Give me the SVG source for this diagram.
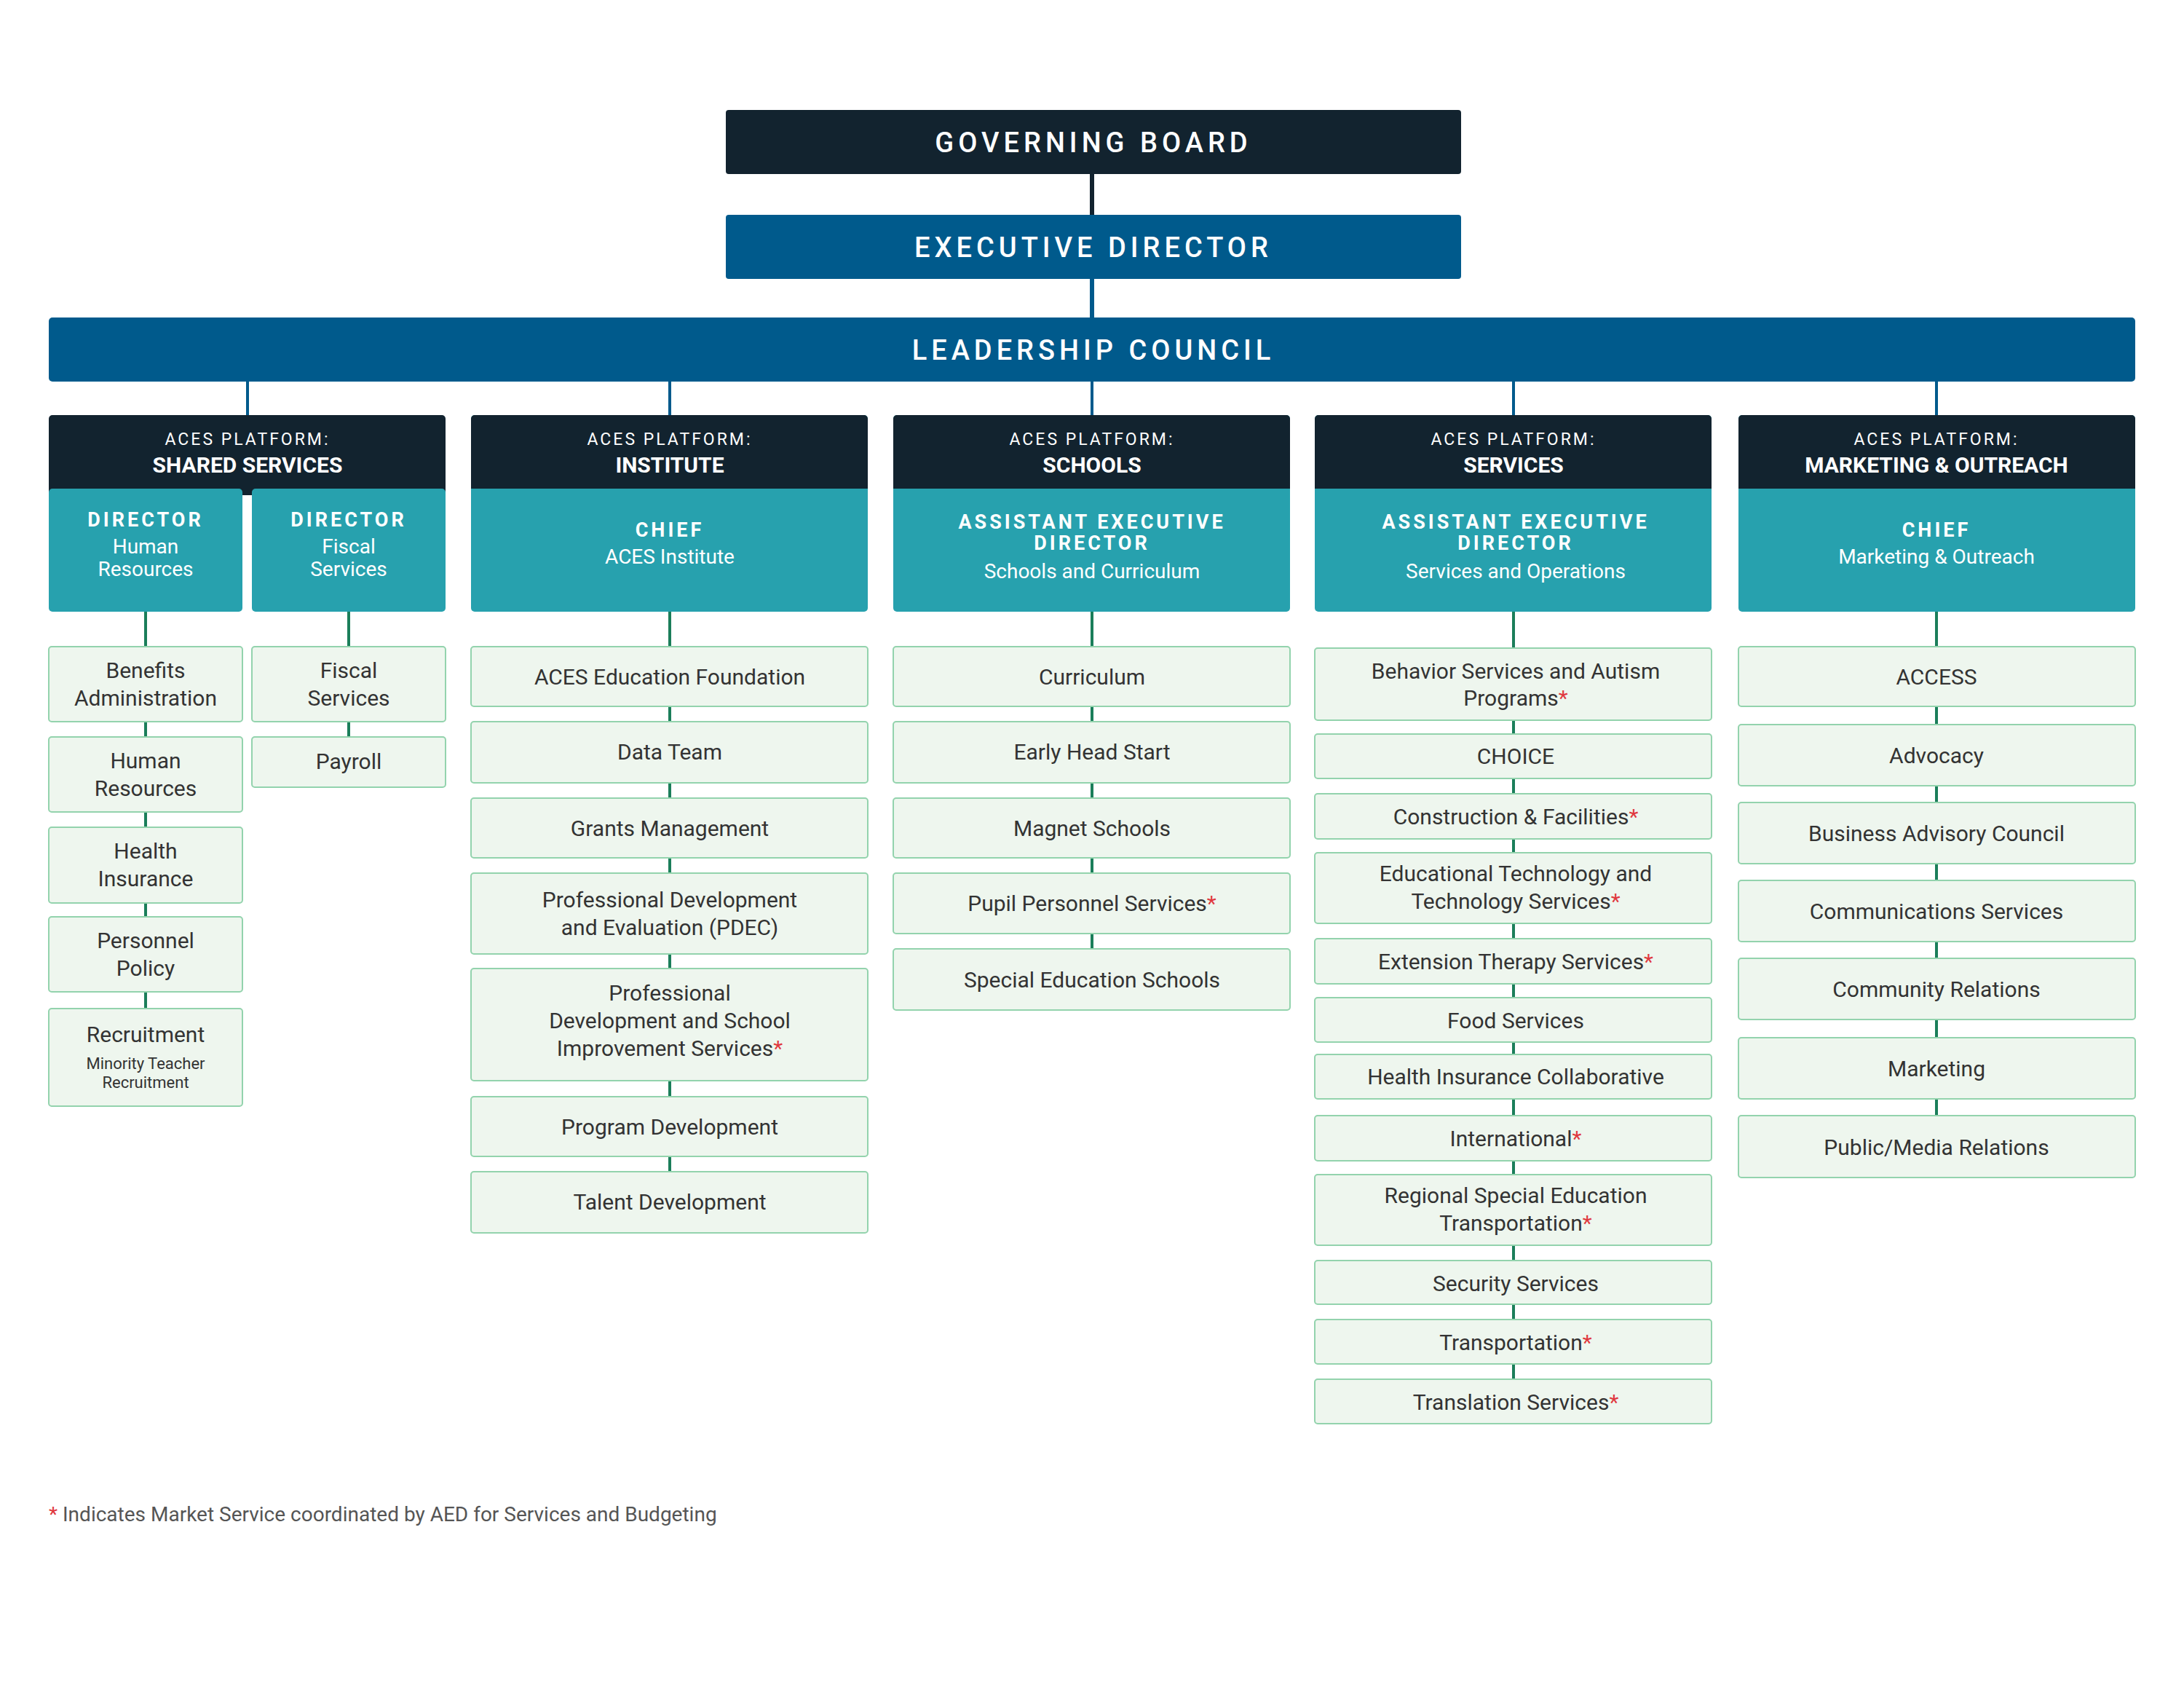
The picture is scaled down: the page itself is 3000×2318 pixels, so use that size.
<svg xmlns="http://www.w3.org/2000/svg" width="3000" height="2318" viewBox="0 0 3000 2318">
<style>
text{font-family:Roboto,"Liberation Sans",sans-serif;text-anchor:middle;dominant-baseline:central}
.top{fill:#fff;font-size:38px;font-weight:500;letter-spacing:6px}
.pl{fill:#fff;font-size:23px;letter-spacing:3px}
.pt{fill:#fff;font-size:30px;font-weight:700}
.tt{fill:#fff;font-size:27px;font-weight:700;letter-spacing:4px}
.ts{fill:#fff;font-size:28px}
.it{fill:#333;font-size:30px}
.box{fill:#eef6ee;stroke:#93d3ad;stroke-width:2}
.dk{fill:#12232f}.bl{fill:#005a8c}.te{fill:#27a1ae}
.r{fill:#e0383e}
</style>
<rect width="3000" height="2318" fill="#fff"/>
<g id="connectors" stroke-width="4" fill="none">
<line x1="1500" y1="239" x2="1500" y2="295" stroke="#12232f" stroke-width="6"/>
<line x1="1500" y1="383" x2="1500" y2="436" stroke="#005a8c" stroke-width="6"/>
<g stroke="#005a8c"><line x1="340" y1="524" x2="340" y2="570"/><line x1="920" y1="524" x2="920" y2="570"/><line x1="1500" y1="524" x2="1500" y2="570"/><line x1="2079" y1="524" x2="2079" y2="570"/><line x1="2660" y1="524" x2="2660" y2="570"/></g>
<g stroke="#1b7e5a"><line x1="200" y1="840" x2="200" y2="1385"/><line x1="479" y1="840" x2="479" y2="1012"/><line x1="920" y1="840" x2="920" y2="1609"/><line x1="1500" y1="840" x2="1500" y2="1303"/><line x1="2079" y1="840" x2="2079" y2="1894"/><line x1="2660" y1="840" x2="2660" y2="1532"/></g>
</g>
<g id="governing-board"><rect class="dk" x="997" y="151" width="1010" height="88" rx="4"/><text class="top" x="1502" y="196">GOVERNING BOARD</text></g>
<g id="executive-director"><rect class="bl" x="997" y="295" width="1010" height="88" rx="4"/><text class="top" x="1502" y="340">EXECUTIVE DIRECTOR</text></g>
<g id="leadership-council"><rect class="bl" x="67" y="436" width="2866" height="88" rx="5"/><text class="top" x="1502" y="481">LEADERSHIP COUNCIL</text></g>

<g id="shared-services"><rect class="dk" x="67" y="570" width="545" height="110" rx="5"/><rect class="te" x="67" y="671" width="266" height="169" rx="5"/><rect class="te" x="346" y="671" width="266" height="169" rx="5"/><rect class="dk" x="67" y="660" width="545" height="11"/>
<text class="pl" x="340" y="603">ACES PLATFORM:</text><text class="pt" x="340" y="638">SHARED SERVICES</text>
<text class="tt" x="200" y="714">DIRECTOR</text><text class="ts" x="200" y="750">Human</text><text class="ts" x="200" y="781">Resources</text>
<text class="tt" x="479" y="714">DIRECTOR</text><text class="ts" x="479" y="750">Fiscal</text><text class="ts" x="479" y="781">Services</text></g>
<g id="institute"><rect class="te" x="647" y="570" width="545" height="270" rx="5"/><rect class="dk" x="647" y="570" width="545" height="101" rx="5"/><rect class="dk" x="647" y="655" width="545" height="16"/>
<text class="pl" x="920" y="603">ACES PLATFORM:</text><text class="pt" x="920" y="638">INSTITUTE</text>
<text class="tt" x="920" y="728">CHIEF</text><text class="ts" x="920" y="764">ACES Institute</text></g>
<g id="schools"><rect class="te" x="1227" y="570" width="545" height="270" rx="5"/><rect class="dk" x="1227" y="570" width="545" height="101" rx="5"/><rect class="dk" x="1227" y="655" width="545" height="16"/>
<text class="pl" x="1500" y="603">ACES PLATFORM:</text><text class="pt" x="1500" y="638">SCHOOLS</text>
<text class="tt" x="1500" y="717">ASSISTANT EXECUTIVE</text><text class="tt" x="1500" y="746">DIRECTOR</text><text class="ts" x="1500" y="784">Schools and Curriculum</text></g>
<g id="services"><rect class="te" x="1806" y="570" width="545" height="270" rx="5"/><rect class="dk" x="1806" y="570" width="545" height="101" rx="5"/><rect class="dk" x="1806" y="655" width="545" height="16"/>
<text class="pl" x="2079" y="603">ACES PLATFORM:</text><text class="pt" x="2079" y="638">SERVICES</text>
<text class="tt" x="2082" y="717">ASSISTANT EXECUTIVE</text><text class="tt" x="2082" y="746">DIRECTOR</text><text class="ts" x="2082" y="784">Services and Operations</text></g>
<g id="marketing"><rect class="te" x="2388" y="570" width="545" height="270" rx="5"/><rect class="dk" x="2388" y="570" width="545" height="101" rx="5"/><rect class="dk" x="2388" y="655" width="545" height="16"/>
<text class="pl" x="2660" y="603">ACES PLATFORM:</text><text class="pt" x="2660" y="638">MARKETING &amp; OUTREACH</text>
<text class="tt" x="2660" y="728">CHIEF</text><text class="ts" x="2660" y="764">Marketing &amp; Outreach</text></g>

<g id="hr-items">
<g id="benefits"><rect class="box" x="67" y="888" width="266" height="103" rx="4"/><text class="it" x="200" y="920">Benefits</text><text class="it" x="200" y="958">Administration</text></g>
<g id="human-resources"><rect class="box" x="67" y="1012" width="266" height="103" rx="4"/><text class="it" x="200" y="1044">Human</text><text class="it" x="200" y="1082">Resources</text></g>
<g id="health-insurance"><rect class="box" x="67" y="1136" width="266" height="104" rx="4"/><text class="it" x="200" y="1168">Health</text><text class="it" x="200" y="1206">Insurance</text></g>
<g id="personnel-policy"><rect class="box" x="67" y="1259" width="266" height="103" rx="4"/><text class="it" x="200" y="1291">Personnel</text><text class="it" x="200" y="1329">Policy</text></g>
<g id="recruitment"><rect class="box" x="67" y="1385" width="266" height="134" rx="4"/><text class="it" x="200" y="1420">Recruitment</text><text class="it" x="200" y="1460" style="font-size:22px">Minority Teacher</text><text class="it" x="200" y="1486" style="font-size:22px">Recruitment</text></g>
</g>
<g id="fiscal-items">
<g id="fiscal-services"><rect class="box" x="346" y="888" width="266" height="103" rx="4"/><text class="it" x="479" y="920">Fiscal</text><text class="it" x="479" y="958">Services</text></g>
<g id="payroll"><rect class="box" x="346" y="1012" width="266" height="69" rx="4"/><text class="it" x="479" y="1045">Payroll</text></g>
</g>
<g id="institute-items">
<g><rect class="box" x="647" y="888" width="545" height="82" rx="4"/><text class="it" x="920" y="929">ACES Education Foundation</text></g>
<g><rect class="box" x="647" y="991" width="545" height="84" rx="4"/><text class="it" x="920" y="1032">Data Team</text></g>
<g><rect class="box" x="647" y="1096" width="545" height="82" rx="4"/><text class="it" x="920" y="1137">Grants Management</text></g>
<g><rect class="box" x="647" y="1199" width="545" height="111" rx="4"/><text class="it" x="920" y="1235">Professional Development</text><text class="it" x="920" y="1273">and Evaluation (PDEC)</text></g>
<g><rect class="box" x="647" y="1330" width="545" height="154" rx="4"/><text class="it" x="920" y="1363">Professional</text><text class="it" x="920" y="1401">Development and School</text><text class="it" x="920" y="1439">Improvement Services<tspan class="r">*</tspan></text></g>
<g><rect class="box" x="647" y="1506" width="545" height="82" rx="4"/><text class="it" x="920" y="1547">Program Development</text></g>
<g><rect class="box" x="647" y="1609" width="545" height="84" rx="4"/><text class="it" x="920" y="1650">Talent Development</text></g>
</g>
<g id="schools-items">
<g><rect class="box" x="1227" y="888" width="545" height="82" rx="4"/><text class="it" x="1500" y="929">Curriculum</text></g>
<g><rect class="box" x="1227" y="991" width="545" height="84" rx="4"/><text class="it" x="1500" y="1032">Early Head Start</text></g>
<g><rect class="box" x="1227" y="1096" width="545" height="82" rx="4"/><text class="it" x="1500" y="1137">Magnet Schools</text></g>
<g><rect class="box" x="1227" y="1199" width="545" height="83" rx="4"/><text class="it" x="1500" y="1240">Pupil Personnel Services<tspan class="r">*</tspan></text></g>
<g><rect class="box" x="1227" y="1303" width="545" height="84" rx="4"/><text class="it" x="1500" y="1345">Special Education Schools</text></g>
</g>
<g id="services-items">
<g><rect class="box" x="1806" y="890" width="545" height="99" rx="4"/><text class="it" x="2082" y="921">Behavior Services and Autism</text><text class="it" x="2082" y="958">Programs<tspan class="r">*</tspan></text></g>
<g><rect class="box" x="1806" y="1008" width="545" height="61" rx="4"/><text class="it" x="2082" y="1038">CHOICE</text></g>
<g><rect class="box" x="1806" y="1090" width="545" height="62" rx="4"/><text class="it" x="2082" y="1121">Construction &amp; Facilities<tspan class="r">*</tspan></text></g>
<g><rect class="box" x="1806" y="1171" width="545" height="97" rx="4"/><text class="it" x="2082" y="1199">Educational Technology and</text><text class="it" x="2082" y="1237">Technology Services<tspan class="r">*</tspan></text></g>
<g><rect class="box" x="1806" y="1289" width="545" height="62" rx="4"/><text class="it" x="2082" y="1320">Extension Therapy Services<tspan class="r">*</tspan></text></g>
<g><rect class="box" x="1806" y="1370" width="545" height="61" rx="4"/><text class="it" x="2082" y="1401">Food Services</text></g>
<g><rect class="box" x="1806" y="1448" width="545" height="61" rx="4"/><text class="it" x="2082" y="1478">Health Insurance Collaborative</text></g>
<g><rect class="box" x="1806" y="1532" width="545" height="62" rx="4"/><text class="it" x="2082" y="1563">International<tspan class="r">*</tspan></text></g>
<g><rect class="box" x="1806" y="1613" width="545" height="97" rx="4"/><text class="it" x="2082" y="1641">Regional Special Education</text><text class="it" x="2082" y="1679">Transportation<tspan class="r">*</tspan></text></g>
<g><rect class="box" x="1806" y="1731" width="545" height="60" rx="4"/><text class="it" x="2082" y="1762">Security Services</text></g>
<g><rect class="box" x="1806" y="1812" width="545" height="61" rx="4"/><text class="it" x="2082" y="1843">Transportation<tspan class="r">*</tspan></text></g>
<g><rect class="box" x="1806" y="1894" width="545" height="61" rx="4"/><text class="it" x="2082" y="1925">Translation Services<tspan class="r">*</tspan></text></g>
</g>
<g id="marketing-items">
<g><rect class="box" x="2388" y="888" width="545" height="82" rx="4"/><text class="it" x="2660" y="929">ACCESS</text></g>
<g><rect class="box" x="2388" y="995" width="545" height="84" rx="4"/><text class="it" x="2660" y="1037">Advocacy</text></g>
<g><rect class="box" x="2388" y="1102" width="545" height="84" rx="4"/><text class="it" x="2660" y="1144">Business Advisory Council</text></g>
<g><rect class="box" x="2388" y="1209" width="545" height="84" rx="4"/><text class="it" x="2660" y="1251">Communications Services</text></g>
<g><rect class="box" x="2388" y="1316" width="545" height="84" rx="4"/><text class="it" x="2660" y="1358">Community Relations</text></g>
<g><rect class="box" x="2388" y="1425" width="545" height="84" rx="4"/><text class="it" x="2660" y="1467">Marketing</text></g>
<g><rect class="box" x="2388" y="1532" width="545" height="85" rx="4"/><text class="it" x="2660" y="1575">Public/Media Relations</text></g>
</g>
<text x="67" y="2079" style="text-anchor:start;font-size:28px;fill:#555"><tspan class="r">*</tspan> Indicates Market Service coordinated by AED for Services and Budgeting</text>
</svg>
